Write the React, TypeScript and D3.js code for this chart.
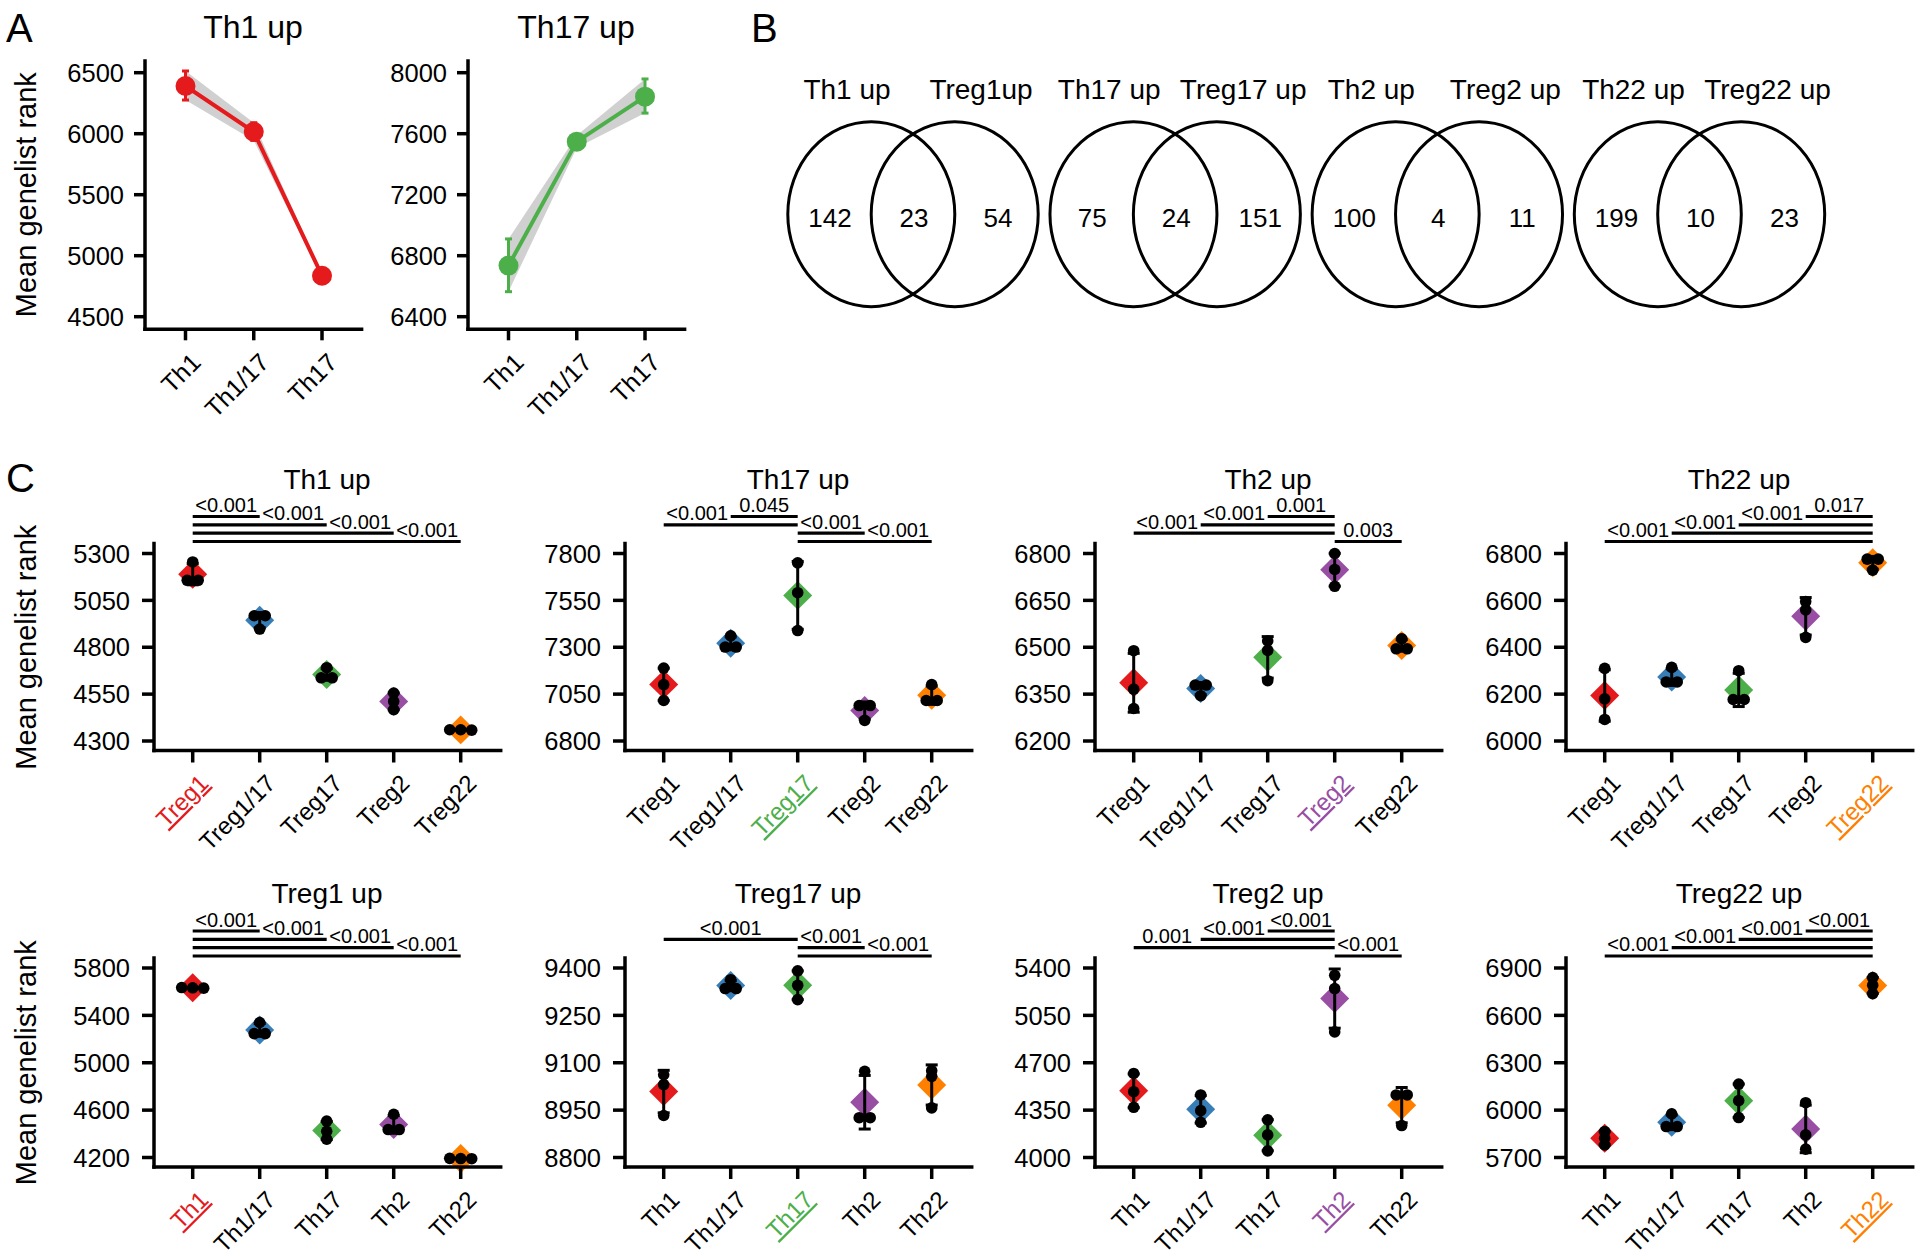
import React from 'react';
import * as d3 from 'd3';

const FONT = "'Liberation Sans', Arial, Helvetica, sans-serif";
const SET1 = ['#E41A1C', '#377EB8', '#4DAF4A', '#984EA3', '#FF7F00'];

// ---------- panel A : trend lines ----------
const trendCats = ['Th1', 'Th1/17', 'Th17'];
const th1TrendMean = [6391, 6016, 4836];
const th1TrendLow = [6276, 5945, 4820];
const th1TrendHigh = [6514, 6090, 4852];
const th1TrendTicks = [4500, 5000, 5500, 6000, 6500];
const th17TrendMean = [6735, 7548, 7843];
const th17TrendLow = [6564, 7508, 7735];
const th17TrendHigh = [6910, 7588, 7959];
const th17TrendTicks = [6400, 6800, 7200, 7600, 8000];

// ---------- panel B : venn counts ----------
const vennLeftNames = ['Th1 up', 'Th17 up', 'Th2 up', 'Th22 up'];
const vennRightNames = ['Treg1up', 'Treg17 up', 'Treg2 up', 'Treg22 up'];
const vennLeftOnly = [142, 75, 100, 199];
const vennShared = [23, 24, 4, 10];
const vennRightOnly = [54, 151, 11, 23];

// ---------- panel C : genelist ranks per donor ----------
const tregCats = ['Treg1', 'Treg1/17', 'Treg17', 'Treg2', 'Treg22'];
const thCats = ['Th1', 'Th1/17', 'Th17', 'Th2', 'Th22'];

const th1UpValues = [[5255, 5157, 5157], [4968, 4968, 4897], [4691, 4637, 4637], [4556, 4511, 4467], [4360, 4358, 4360]];
const th1UpTicks = [4300, 4550, 4800, 5050, 5300];
const th1UpTests = [[0, 1, 1, '<0.001'], [0, 2, 2, '<0.001'], [0, 3, 3, '<0.001'], [0, 4, 4, '<0.001']];

const th17UpValues = [[7189, 7101, 7016], [7361, 7301, 7301], [7750, 7591, 7389], [6989, 6989, 6910], [7101, 7016, 7016]];
const th17UpTicks = [6800, 7050, 7300, 7550, 7800];
const th17UpTests = [[1, 2, 1, '0.045'], [0, 2, 2, '<0.001'], [2, 3, 3, '<0.001'], [2, 4, 4, '<0.001']];

const th2UpValues = [[6489, 6366, 6304], [6379, 6379, 6345], [6520, 6490, 6393], [6800, 6749, 6695], [6527, 6495, 6495]];
const th2UpTicks = [6200, 6350, 6500, 6650, 6800];
const th2UpTests = [[2, 3, 1, '0.001'], [1, 3, 2, '<0.001'], [0, 3, 3, '<0.001'], [3, 4, 4, '0.003']];

const th22UpValues = [[6310, 6180, 6092], [6314, 6252, 6252], [6300, 6177, 6177], [6595, 6559, 6442], [6776, 6776, 6729]];
const th22UpTicks = [6000, 6200, 6400, 6600, 6800];
const th22UpTests = [[3, 4, 1, '0.017'], [2, 4, 2, '<0.001'], [1, 4, 3, '<0.001'], [0, 4, 4, '<0.001']];

const treg1UpValues = [[5630, 5635, 5633], [5340, 5246, 5246], [4507, 4421, 4355], [4565, 4436, 4436], [4191, 4193, 4190]];
const treg1UpTicks = [4200, 4600, 5000, 5400, 5800];
const treg1UpTests = [[0, 1, 1, '<0.001'], [0, 2, 2, '<0.001'], [0, 3, 3, '<0.001'], [0, 4, 4, '<0.001']];

const treg17UpValues = [[9062, 9031, 8933], [9363, 9335, 9335], [9391, 9345, 9300], [9073, 8926, 8926], [9075, 9057, 8957]];
const treg17UpTicks = [8800, 8950, 9100, 9250, 9400];
const treg17UpTests = [[0, 2, 2, '<0.001'], [2, 3, 3, '<0.001'], [2, 4, 4, '<0.001']];

const treg2UpValues = [[4621, 4486, 4371], [4462, 4346, 4260], [4278, 4167, 4049], [5346, 5248, 4928], [4462, 4462, 4236]];
const treg2UpTicks = [4000, 4350, 4700, 5050, 5400];
const treg2UpTests = [[2, 3, 1, '<0.001'], [1, 3, 2, '<0.001'], [0, 3, 3, '0.001'], [3, 4, 4, '<0.001']];

const treg22UpValues = [[5864, 5822, 5780], [5976, 5896, 5896], [6165, 6060, 5953], [6047, 5843, 5753], [6839, 6791, 6738]];
const treg22UpTicks = [5700, 6000, 6300, 6600, 6900];
const treg22UpTests = [[3, 4, 1, '<0.001'], [2, 4, 2, '<0.001'], [1, 4, 3, '<0.001'], [0, 4, 4, '<0.001']];

const panels = [
  { title: 'Th1 up', cats: tregCats, values: th1UpValues, ticks: th1UpTicks, tests: th1UpTests, hi: 0 },
  { title: 'Th17 up', cats: tregCats, values: th17UpValues, ticks: th17UpTicks, tests: th17UpTests, hi: 2 },
  { title: 'Th2 up', cats: tregCats, values: th2UpValues, ticks: th2UpTicks, tests: th2UpTests, hi: 3 },
  { title: 'Th22 up', cats: tregCats, values: th22UpValues, ticks: th22UpTicks, tests: th22UpTests, hi: 4 },
  { title: 'Treg1 up', cats: thCats, values: treg1UpValues, ticks: treg1UpTicks, tests: treg1UpTests, hi: 0 },
  { title: 'Treg17 up', cats: thCats, values: treg17UpValues, ticks: treg17UpTicks, tests: treg17UpTests, hi: 2 },
  { title: 'Treg2 up', cats: thCats, values: treg2UpValues, ticks: treg2UpTicks, tests: treg2UpTests, hi: 3 },
  { title: 'Treg22 up', cats: thCats, values: treg22UpValues, ticks: treg22UpTicks, tests: treg22UpTests, hi: 4 },
];

const AXIS_W = 3.5;

// spread dots that sit on (nearly) the same height
function dodge(ys: number[], gap: number, step: number) {
  const order = d3.range(ys.length).sort((a, b) => ys[a] - ys[b]);
  const offs = ys.map(() => 0);
  let cluster: number[] = [];
  const flush = () => {
    cluster.forEach((idx, k) => { offs[idx] = (k - (cluster.length - 1) / 2) * step; });
    cluster = [];
  };
  order.forEach((idx) => {
    if (cluster.length && ys[idx] - ys[cluster[cluster.length - 1]] >= gap) flush();
    cluster.push(idx);
  });
  flush();
  return offs;
}

// label goes over the part of the bracket that is not covered by brackets above it
function labelSpan(tests: any[], t: any[]) {
  const lo = Math.min(t[0], t[1]), hi = Math.max(t[0], t[1]);
  const free: number[] = [];
  for (let k = lo; k < hi; k++) {
    const covered = tests.some((u) => u[2] < t[2] && Math.min(u[0], u[1]) <= k && Math.max(u[0], u[1]) >= k + 1);
    if (!covered) free.push(k);
  }
  if (!free.length) return [lo, hi];
  let end = free[0];
  while (free.includes(end + 1)) end++;
  return [free[0], end + 1];
}

function YLabel({ x, y }: { x: number; y: number }) {
  return (
    <text transform={`translate(${x},${y}) rotate(-90)`} textAnchor="middle" fontSize={29}>
      Mean genelist rank
    </text>
  );
}

function TrendChart({ x0, title, mean, low, high, ticks, color }: any) {
  const top = 72.7, bottom = 316.7, axisY = 329.3, axisTop = 61;
  const x = d3.scalePoint<string>().domain(trendCats).range([x0 + 40.5, x0 + 177]);
  const y = d3.scaleLinear().domain([ticks[0], ticks[ticks.length - 1]]).range([bottom, top]);
  const area = d3.area<number>().x((_, i) => x(trendCats[i])!).y0((_, i) => y(low[i])).y1((_, i) => y(high[i]));
  const line = d3.line<number>().x((_, i) => x(trendCats[i])!).y((d) => y(d));
  return (
    <g>
      <text x={x0 + 108} y={38} textAnchor="middle" fontSize={32}>{title}</text>
      <path d={area(mean)!} fill="#c8c8c8" fillOpacity={0.85} />
      <path d={line(mean)!} fill="none" stroke={color} strokeWidth={4} />
      {mean.map((m: number, i: number) => {
        const cx = x(trendCats[i])!;
        return (
          <g key={i}>
            <line x1={cx} x2={cx} y1={y(low[i])} y2={y(high[i])} stroke={color} strokeWidth={3} />
            <line x1={cx - 3.5} x2={cx + 3.5} y1={y(low[i])} y2={y(low[i])} stroke={color} strokeWidth={3} />
            <line x1={cx - 3.5} x2={cx + 3.5} y1={y(high[i])} y2={y(high[i])} stroke={color} strokeWidth={3} />
            <circle cx={cx} cy={y(m)} r={10} fill={color} />
          </g>
        );
      })}
      <line x1={x0} x2={x0} y1={axisTop} y2={axisY} stroke="#000" strokeWidth={AXIS_W} strokeLinecap="square" />
      <line x1={x0} x2={x0 + 216.6} y1={axisY} y2={axisY} stroke="#000" strokeWidth={AXIS_W} strokeLinecap="square" />
      {ticks.map((t: number) => (
        <g key={t}>
          <line x1={x0 - 11} x2={x0} y1={y(t)} y2={y(t)} stroke="#000" strokeWidth={AXIS_W} />
          <text x={x0 - 21} y={y(t)} dy="0.36em" textAnchor="end" fontSize={25.5}>{t}</text>
        </g>
      ))}
      {trendCats.map((c) => (
        <g key={c}>
          <line x1={x(c)} x2={x(c)} y1={axisY} y2={axisY + 11} stroke="#000" strokeWidth={AXIS_W} />
          <text transform={`translate(${x(c)! + 4},${axisY + 22}) rotate(-45)`} dy="0.72em" textAnchor="end" fontSize={25}>{c}</text>
        </g>
      ))}
    </g>
  );
}

function Venn() {
  const px = d3.scalePoint<number>().domain(d3.range(4)).range([913, 1699.5]);
  const off = 41.7, rx = 83.5, ry = 92.5, cy = 214.2;
  return (
    <g>
      {d3.range(4).map((i) => {
        const c = px(i)!;
        return (
          <g key={i}>
            <text x={c - 66} y={99} textAnchor="middle" fontSize={28}>{vennLeftNames[i]}</text>
            <text x={c + 68} y={99} textAnchor="middle" fontSize={28}>{vennRightNames[i]}</text>
            <ellipse cx={c - off} cy={cy} rx={rx} ry={ry} fill="none" stroke="#000" strokeWidth={3} />
            <ellipse cx={c + off} cy={cy} rx={rx} ry={ry} fill="none" stroke="#000" strokeWidth={3} />
            <text x={c - 83} y={226.7} textAnchor="middle" fontSize={26}>{vennLeftOnly[i]}</text>
            <text x={c + 1} y={226.7} textAnchor="middle" fontSize={26}>{vennShared[i]}</text>
            <text x={c + 85} y={226.7} textAnchor="middle" fontSize={26}>{vennRightOnly[i]}</text>
          </g>
        );
      })}
    </g>
  );
}

function DotPanel({ p, x0, top, bottom, showLabel }: any) {
  const axisY = bottom + 9.5, axisTop = top - 10;
  const x = d3.scalePoint<string>().domain(p.cats).range([x0 + 38.7, x0 + 306.7]);
  const y = d3.scaleLinear().domain([p.ticks[0], p.ticks[p.ticks.length - 1]]).range([bottom, top]);
  const diamond = d3.symbol().type(d3.symbolSquare).size(420)()!;
  const levelY = (l: number) => top - 37 + (l - 1) * 8.33;
  return (
    <g>
      {showLabel && <YLabel x={35.5} y={(top + bottom) / 2} />}
      <text x={x0 + 173} y={top - 65} textAnchor="middle" fontSize={28}>{p.title}</text>
      {p.tests.map((t: any[], i: number) => {
        const ly = levelY(t[2]);
        const [s, e] = labelSpan(p.tests, t);
        const lx = (x(p.cats[s])! + x(p.cats[e])!) / 2;
        return (
          <g key={i}>
            <line x1={x(p.cats[t[0]])} x2={x(p.cats[t[1]])} y1={ly} y2={ly} stroke="#000" strokeWidth={3.2} />
            <text x={lx} y={ly - 4.5} textAnchor="middle" fontSize={20}>{t[3]}</text>
          </g>
        );
      })}
      {p.values.map((vals: number[], i: number) => {
        const cx = x(p.cats[i])!;
        const m = d3.mean(vals)!;
        const sd = d3.deviation(vals)!;
        const ys = vals.map((v) => y(v));
        const offs = dodge(ys, 5, 11);
        return (
          <g key={i}>
            <path d={diamond} transform={`translate(${cx},${y(m)}) rotate(45)`} fill={SET1[i]} />
            <line x1={cx} x2={cx} y1={y(m - sd)} y2={y(m + sd)} stroke="#000" strokeWidth={3} />
            <line x1={cx - 6} x2={cx + 6} y1={y(m - sd)} y2={y(m - sd)} stroke="#000" strokeWidth={3} />
            <line x1={cx - 6} x2={cx + 6} y1={y(m + sd)} y2={y(m + sd)} stroke="#000" strokeWidth={3} />
            {ys.map((yy, k) => (
              <circle key={k} cx={cx + offs[k]} cy={yy} r={5.8} fill="#000" />
            ))}
          </g>
        );
      })}
      <line x1={x0} x2={x0} y1={axisTop} y2={axisY} stroke="#000" strokeWidth={AXIS_W} strokeLinecap="square" />
      <line x1={x0} x2={x0 + 346.7} y1={axisY} y2={axisY} stroke="#000" strokeWidth={AXIS_W} strokeLinecap="square" />
      {p.ticks.map((t: number) => (
        <g key={t}>
          <line x1={x0 - 12} x2={x0} y1={y(t)} y2={y(t)} stroke="#000" strokeWidth={AXIS_W} />
          <text x={x0 - 24} y={y(t)} dy="0.36em" textAnchor="end" fontSize={25.5}>{t}</text>
        </g>
      ))}
      {p.cats.map((c: string, i: number) => (
        <g key={c}>
          <line x1={x(c)} x2={x(c)} y1={axisY} y2={axisY + 12} stroke="#000" strokeWidth={AXIS_W} />
          <text
            transform={`translate(${x(c)! + 5},${axisY + 22}) rotate(-45)`}
            dy="0.72em"
            textAnchor="end"
            fontSize={24}
            fill={i === p.hi ? SET1[i] : '#000'}
            style={i === p.hi ? { textDecoration: 'underline' } : undefined}
          >
            {c}
          </text>
        </g>
      ))}
    </g>
  );
}

export default function App() {
  const colX0 = [154, 625, 1095, 1566];
  const rowTop = [553.5, 968];
  const rowBottom = [741, 1157.5];
  return (
    <svg
      width={1920}
      height={1259}
      style={{ position: 'absolute', left: 0, top: 0, background: '#fff' }}
      fontFamily={FONT}
    >
      <rect width={1920} height={1259} fill="#fff" />
      <text x={6} y={42} fontSize={40}>A</text>
      <YLabel x={35.5} y={194.7} />
      <TrendChart x0={145} title="Th1 up" mean={th1TrendMean} low={th1TrendLow} high={th1TrendHigh} ticks={th1TrendTicks} color={SET1[0]} />
      <TrendChart x0={468} title="Th17 up" mean={th17TrendMean} low={th17TrendLow} high={th17TrendHigh} ticks={th17TrendTicks} color={SET1[2]} />
      <text x={751} y={42} fontSize={40}>B</text>
      <Venn />
      <text x={6} y={492} fontSize={40}>C</text>
      {panels.map((p, i) => (
        <DotPanel
          key={p.title}
          p={p}
          x0={colX0[i % 4]}
          top={rowTop[Math.floor(i / 4)]}
          bottom={rowBottom[Math.floor(i / 4)]}
          showLabel={i % 4 === 0}
        />
      ))}
    </svg>
  );
}
